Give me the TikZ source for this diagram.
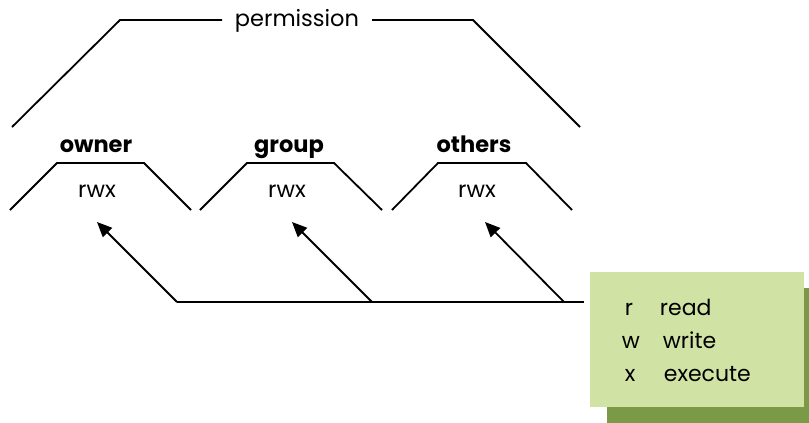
\documentclass[tikz,border=0pt]{standalone}
\usepackage{fontspec}
\setmainfont{Poppins}
\usetikzlibrary{arrows.meta}
\definecolor{boxgreen}{HTML}{D0E2A4}
\definecolor{shadowgreen}{HTML}{7A9A48}
\begin{document}
\begin{tikzpicture}[x=1pt,y=-1pt, line width=1.8pt,
  lbl/.style={font=\fontsize{22.5}{26}\selectfont, inner sep=0pt, anchor=base},
  head/.style={font=\fontsize{22.5}{26}\selectfont\bfseries, inner sep=0pt, anchor=base},
  leg/.style={font=\fontsize{22}{26}\selectfont, inner sep=0pt, anchor=base west},
  arr/.style={-{Triangle[length=15pt,width=13pt]}},
  trap/.style={line join=miter}]
\useasboundingbox (0,0) rectangle (809,423);
% permission bracket
\node[lbl] (perm) at (297,27) {permission};
\coordinate (pl0) at (12,127);
\coordinate (pl1) at (120,20);
\coordinate (pl2) at (222,20);
\coordinate (pr0) at (372,20);
\coordinate (pr1) at (473,20);
\coordinate (pr2) at (580,127);
\draw[trap] (pl0) -- (pl1) -- (pl2);
\draw[trap] (pr0) -- (pr1) -- (pr2);
% headings
\node[head] (owner) at (96,152) {owner};
\node[head] (group) at (289,152) {group};
\node[head] (others) at (474,152) {others};
% trapezoids
\draw[trap] (10,210) -- (57,163) -- (144,163) -- (191,210);
\draw[trap] (200,210) -- (247,163) -- (334,163) -- (382,210);
\draw[trap] (392,210) -- (438,163) -- (526,163) -- (572,210);
\node[lbl] (rwx1) at (97,197) {rwx};
\node[lbl] (rwx2) at (287,197) {rwx};
\node[lbl] (rwx3) at (477,197) {rwx};
% arrows
\coordinate (t1) at (97,222);
\coordinate (t2) at (292,222);
\coordinate (t3) at (485,222);
\coordinate (b1) at (177,302);
\coordinate (b2) at (372,302);
\coordinate (b3) at (564,302);
\coordinate (bend) at (584,302);
\draw (b1) -- (bend);
\draw[arr] (b1) -- (t1);
\draw[arr] (b2) -- (t2);
\draw[arr] (b3) -- (t3);
% legend box
\fill[shadowgreen] (607,288) rectangle (830,423);
\fill[boxgreen] (590,272) rectangle (804,407);
\node[leg] (lr) at (624,315) {r};
\node[leg] (lw) at (621,348) {w};
\node[leg] (lx) at (624,381) {x};
\node[leg] (wr) at (659,315) {read};
\node[leg] (ww) at (662,348) {write};
\node[leg] (wx) at (663,381) {execute};
\end{tikzpicture}
\end{document}
